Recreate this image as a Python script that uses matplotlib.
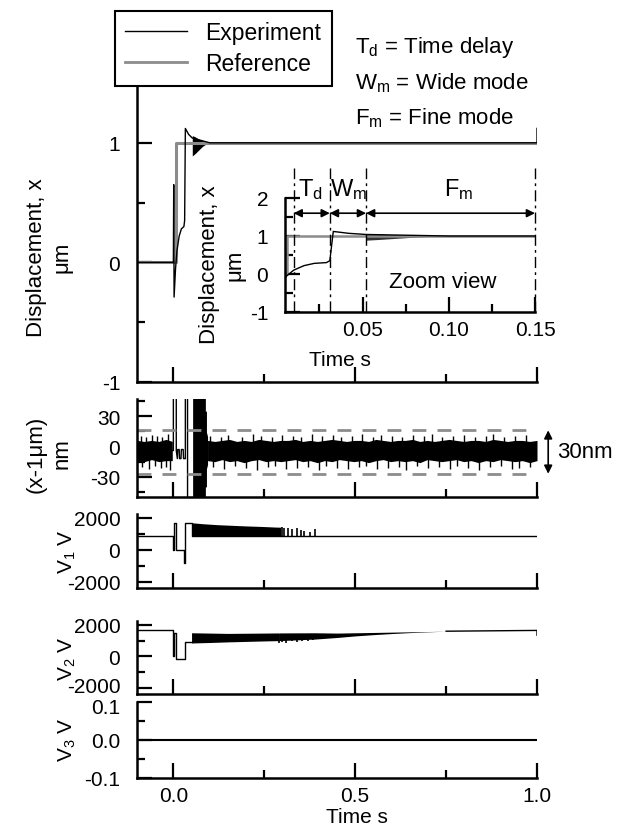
import numpy as np
import matplotlib.pyplot as plt
from matplotlib.ticker import MultipleLocator
from matplotlib.lines import Line2D
from matplotlib.transforms import ScaledTranslation

plt.rcParams['font.family'] = ['Liberation Sans', 'DejaVu Sans']
plt.rcParams['mathtext.fontset'] = 'custom'
plt.rcParams['mathtext.rm'] = 'Liberation Sans'
plt.rcParams['mathtext.it'] = 'Liberation Sans'
plt.rcParams['axes.unicode_minus'] = False
plt.rcParams['font.size'] = 15

GREY = '#8c8c8c'

# displacement (um) - experiment and reference
exp_t = [-0.1, 0.0, 0.001, 0.002, 0.006, 0.010, 0.016, 0.022, 0.029, 0.031, 0.033, 0.042, 0.052, 0.1, 1.0, 1.0]
exp_x = [0.0, 0.0, 0.65, -0.29, -0.05, 0.10, 0.22, 0.28, 0.30, 0.35, 1.12, 1.07, 1.04, 1.0, 1.0, 1.12]
osc_t = [0.052, 0.06, 0.07, 0.08, 0.09, 0.10]
osc_hi = [1.06, 1.05, 1.03, 1.02, 1.01, 1.0]
osc_lo = [0.89, 0.91, 0.94, 0.97, 0.99, 1.0]
ref_t = [-0.1, 0.006, 0.006, 1.0]
ref_x = [0.0, 0.0, 1.0, 1.0]

# zoom view mode boundaries (s)
mode_t = [0.010, 0.031, 0.052, 0.150]
mode_names = ['T$_\\mathregular{d}$', 'W$_\\mathregular{m}$', 'F$_\\mathregular{m}$']

# error x-1um (nm)
pre_t = [-0.1, -0.08, -0.06, -0.04, -0.02, -0.003]
pre_hi = [6, 5, 6, 5, 7, 5]
pre_lo = [-14, -15, -13, -15, -14, -14]
pre_spk_t = [-0.09, -0.075, -0.06, -0.045, -0.03, -0.015, -0.085, -0.068, -0.05, -0.035, -0.02, -0.008]
pre_spk_v = [10, 9, 11, 10, 9, 12, -20, -22, -19, -21, -20, -23]
err_t = [-0.003, 0.0, 0.0, 0.008, 0.008, 0.011, 0.012, 0.016, 0.017, 0.021, 0.022, 0.027, 0.028,
         0.033, 0.033, 0.039, 0.039, 0.053]
err_v = [-4, -4, 90, 90, -4, -12, -3, -3, -12, -12, -3, -3, -12, -12, 90, 90, -90, -90]
blk_t = [0.053, 0.085, 0.088, 0.088, 0.091, 0.091, 0.094]
blk_hi = [90, 90, 90, 35, 35, 14, 10]
blk_lo = [-90, -90, -90, -40, -40, -22, -18]
post_hi = [6, 5, 6, 7, 5, 6, 5, 7, 6, 5, 6, 6, 7, 5, 6, 5, 6, 7, 6, 5, 6, 6, 5,
           7, 6, 5, 6, 6, 7, 5, 6, 5, 6, 7, 6, 5, 6, 6, 5, 7, 6, 5, 6, 6, 5, 6]
post_lo = [-14, -15, -13, -15, -14, -16, -14, -13, -15, -14, -15, -14, -13, -15, -14, -16,
           -14, -15, -13, -14, -15, -14, -16, -14, -13, -15, -14, -15, -14, -16, -13, -14,
           -15, -14, -13, -15, -14, -16, -14, -15, -13, -14, -15, -14, -16, -14]
post_t = np.linspace(0.094, 1.0, len(post_hi))
up_spk_t = [0.10, 0.13, 0.15, 0.19, 0.22, 0.24, 0.27, 0.30, 0.33, 0.35, 0.38, 0.41, 0.44, 0.46, 0.49,
            0.52, 0.55, 0.57, 0.60, 0.63, 0.66, 0.69, 0.71, 0.74, 0.77, 0.80, 0.83, 0.86, 0.88, 0.91,
            0.94, 0.97]
up_spk_v = [10, 9, 11, 9, 12, 10, 9, 11, 10, 9, 12, 10, 11, 9, 10, 12, 9, 11, 10, 9, 11, 10, 12, 9,
            10, 11, 9, 10, 12, 9, 10, 11]
dn_spk_t = [0.11, 0.14, 0.17, 0.20, 0.23, 0.26, 0.28, 0.31, 0.34, 0.37, 0.40, 0.42, 0.45, 0.48, 0.51,
            0.53, 0.56, 0.59, 0.62, 0.64, 0.67, 0.70, 0.73, 0.76, 0.78, 0.81, 0.84, 0.87, 0.90, 0.93,
            0.95, 0.98]
dn_spk_v = [-20, -22, -19, -21, -23, -20, -19, -22, -21, -20, -23, -19, -21, -22, -20, -19, -22, -21,
            -20, -23, -19, -21, -20, -22, -19, -21, -23, -20, -19, -22, -21, -20]
band_lim = [16, -27]

# V1 (V)
v1_t = [-0.1, 0.0, 0.0, 0.001, 0.001, 0.007, 0.007, 0.029, 0.029, 0.032, 0.032, 0.05, 0.05, 1.0]
v1_v = [880, 880, 0, 0, 1700, 1700, 0, 0, -800, -800, 1700, 1700, 880, 880]
v1_blk_t = [0.05, 0.08, 0.12, 0.16, 0.20, 0.24, 0.28, 0.295]
v1_blk_hi = [1700, 1640, 1580, 1540, 1500, 1470, 1430, 1420]
v1_spk_t = [0.30, 0.305, 0.315, 0.325, 0.34, 0.35, 0.36, 0.375, 0.39]
v1_spk_v = [1420, 1350, 1400, 1300, 1380, 1250, 1200, 1150, 1300]

# V2 (V)
v2_t = [-0.1, 0.0, 0.0, 0.002, 0.002, 0.008, 0.008, 0.032, 0.032, 0.05]
v2_v = [1650, 1650, 0, 0, 1500, 1500, -150, -150, 900, 900]
v2_blk_t = [0.05, 0.1, 0.15, 0.2, 0.25, 0.29]
v2_blk_hi = [1500, 1480, 1460, 1470, 1480, 1490]
v2_blk_lo = [850, 880, 920, 950, 980, 1000]
v2_spk_t = [0.29, 0.30, 0.31, 0.325, 0.34, 0.355, 0.37, 0.385]
v2_spk_v = [850, 900, 870, 950, 900, 1000, 950, 1050]
v2_tail_t = [0.29, 0.39, 0.45, 0.5, 0.55, 0.6, 0.65, 0.7, 0.75]
v2_tail_hi = [1490, 1500, 1480, 1500, 1520, 1540, 1560, 1580, 1600]
v2_tail_lo = [1000, 1100, 1200, 1300, 1380, 1450, 1510, 1560, 1600]
v2_end_t = [0.75, 1.0, 1.0]
v2_end_v = [1600, 1650, 1350]

# V3 (V)
v3_t = [-0.1, 1.0]
v3_v = [0.0, 0.0]

W, H = 626, 828


def box(l, t, r, b):
    return [l / W, 1 - b / H, (r - l) / W, (b - t) / H]


def style(ax, ymaj, ymin, xmaj=0.5, xmin=0.25, labels=False):
    for s in ['top', 'right']:
        ax.spines[s].set_visible(False)
    for s in ['left', 'bottom']:
        ax.spines[s].set_linewidth(1.8)
    ax.xaxis.set_major_locator(MultipleLocator(xmaj))
    ax.xaxis.set_minor_locator(MultipleLocator(xmin))
    ax.yaxis.set_major_locator(MultipleLocator(ymaj))
    ax.yaxis.set_minor_locator(MultipleLocator(ymin))
    ax.tick_params(which='both', direction='in', width=1.6, labelsize=15)
    ax.tick_params(which='major', length=11, pad=12)
    ax.tick_params(which='minor', length=6)
    ax.tick_params(axis='x', pad=6)
    if not labels:
        ax.tick_params(axis='x', labelbottom=False)


def nudge(tick, dy):
    # shift one tick label vertically by dy points
    lab = tick.label1
    lab.set_transform(lab.get_transform() + ScaledTranslation(0, dy / 72, fig.dpi_scale_trans))


fig = plt.figure(figsize=(W / 100, H / 100), dpi=100)

# main displacement
ax1 = fig.add_axes(box(137, 84, 537, 383))
ax1.plot(ref_t, ref_x, color=GREY, lw=2.2)
ax1.plot(exp_t, exp_x, color='black', lw=1)
ax1.fill_between(osc_t, osc_lo, osc_hi, color='black', lw=0)
ax1.set_xlim(-0.1, 1.0)
ax1.set_ylim(-1, 1.5)
style(ax1, 1, 0.5)
ax1.set_yticks([-1, 0, 1])
ax1.set_ylabel('Displacement, x\nμm', fontsize=16, ha='center', va='center', linespacing=1.3)
ax1.yaxis.set_label_coords(-0.22, 0.42)

# zoom view inset
ax_in = fig.add_axes(box(285, 199, 535, 313))
ax_in.plot(ref_t, ref_x, color=GREY, lw=1.8)
ax_in.plot(exp_t, exp_x, color='black', lw=1)
ax_in.fill_between(osc_t, osc_lo, osc_hi, color='black', lw=0, alpha=0.8)
ax_in.set_xlim(0.005, 0.15)
ax_in.set_ylim(-1, 2)
style(ax_in, 1, 0.5, xmaj=0.05, xmin=0.025, labels=True)
ax_in.set_xticks([0.05, 0.10, 0.15])
ax_in.set_xticklabels(['0.05', '0.10', '0.15'])
ax_in.vlines(mode_t, -1, 2.8, colors='black', lw=1, linestyles=(0, (8, 3, 2, 3)), clip_on=False)
for i in range(3):
    ax_in.annotate('', xy=(mode_t[i + 1], 1.6), xytext=(mode_t[i], 1.6),
                   arrowprops=dict(arrowstyle='<|-|>', color='black', lw=1.2,
                                   shrinkA=0, shrinkB=0, mutation_scale=12))
ax_in.text(0.020, 2.25, mode_names[0], ha='center', va='center', fontsize=17)
ax_in.text(0.042, 2.25, mode_names[1], ha='center', va='center', fontsize=17)
ax_in.text(0.106, 2.25, mode_names[2], ha='center', va='center', fontsize=17)
ax_in.text(0.0965, -0.2, 'Zoom view', ha='center', va='center', fontsize=16)
ax_in.set_ylabel('Displacement, x\nμm', fontsize=16, ha='center', va='center', linespacing=1.3)
ax_in.yaxis.set_label_coords(-0.25, 0.42)
ax_in.set_xlabel('Time s', fontsize=15)
ax_in.xaxis.set_label_coords(0.22, -0.33)

# error panel
ax2 = fig.add_axes(box(137, 400, 537, 498))
ax2.fill_between(pre_t, pre_lo, pre_hi, color='black', lw=0)
ax2.vlines(pre_spk_t, -4, pre_spk_v, colors='black', lw=1)
ax2.plot(err_t, err_v, color='black', lw=1)
ax2.fill_between(blk_t, blk_lo, blk_hi, color='black', lw=0)
ax2.fill_between(post_t, post_lo, post_hi, color='black', lw=0)
ax2.vlines(up_spk_t, -4, up_spk_v, colors='black', lw=1)
ax2.vlines(dn_spk_t, -4, dn_spk_v, colors='black', lw=1)
ax2.hlines(band_lim, -0.1, 1.0, colors=GREY, lw=2, linestyles=(0, (5, 4)))
ax2.set_xlim(-0.1, 1.0)
ax2.set_ylim(-50, 47)
style(ax2, 30, 15)
ax2.annotate('', xy=(1.028, band_lim[0]), xytext=(1.028, band_lim[1]),
             xycoords=('axes fraction', 'data'), textcoords=('axes fraction', 'data'),
             arrowprops=dict(arrowstyle='<|-|>', color='black', lw=1.2,
                             shrinkA=0, shrinkB=0, mutation_scale=12), annotation_clip=False)
ax2.text(1.05, -5, '30nm', transform=ax2.get_yaxis_transform(), va='center', fontsize=16)
ax2.set_ylabel('(x-1μm)\nnm', fontsize=16, ha='center', va='center', linespacing=1.3)
ax2.yaxis.set_label_coords(-0.22, 0.45)

# V1
ax3 = fig.add_axes(box(137, 515, 537, 589))
ax3.plot(v1_t, v1_v, color='black', lw=1)
ax3.fill_between(v1_blk_t, 850, v1_blk_hi, color='black', lw=0)
ax3.vlines(v1_spk_t, 850, v1_spk_v, colors='black', lw=1.2)
ax3.set_xlim(-0.1, 1.0)
ax3.set_ylim(-2400, 2250)
style(ax3, 2000, 1000)
ax3.set_ylabel('V$_\\mathregular{1}$ V', fontsize=15, ha='center', va='center')
ax3.yaxis.set_label_coords(-0.175, 0.5)

# V2
ax4 = fig.add_axes(box(137, 622, 537, 695))
ax4.plot(v2_t, v2_v, color='black', lw=1)
ax4.fill_between(v2_blk_t, v2_blk_lo, v2_blk_hi, color='black', lw=0)
ax4.vlines(v2_spk_t, v2_spk_v, 1450, colors='black', lw=1.2)
ax4.fill_between(v2_tail_t, v2_tail_lo, v2_tail_hi, color='black', lw=0)
ax4.plot(v2_end_t, v2_end_v, color='black', lw=1)
ax4.set_xlim(-0.1, 1.0)
ax4.set_ylim(-2400, 2250)
style(ax4, 2000, 1000)
ax4.set_yticks([-2000, 0, 2000])
nudge(ax4.yaxis.get_major_ticks()[0], 2.5)
ax4.set_ylabel('V$_\\mathregular{2}$ V', fontsize=15, ha='center', va='center')
ax4.yaxis.set_label_coords(-0.175, 0.5)

# V3
ax5 = fig.add_axes(box(137, 703, 537, 779))
ax5.plot(v3_t, v3_v, color='black', lw=1.5)
ax5.set_xlim(-0.1, 1.0)
ax5.set_ylim(-0.1, 0.1)
style(ax5, 0.1, 0.05, labels=True)
ax5.set_xticks([0.0, 0.5, 1.0])
ax5.set_xticklabels(['0.0', '0.5', '1.0'])
ax5.set_yticks([-0.1, 0.0, 0.1])
ax5.set_yticklabels(['-0.1', '0.0', '0.1'])
nudge(ax5.yaxis.get_major_ticks()[2], -2.5)
ax5.set_xlabel('Time s', fontsize=15, labelpad=0)
ax5.xaxis.set_label_coords(0.55, -0.38)
ax5.set_ylabel('V$_\\mathregular{3}$ V', fontsize=15, ha='center', va='center')
ax5.yaxis.set_label_coords(-0.175, 0.52)

# legend and mode notes
handles = [Line2D([], [], color='black', lw=1), Line2D([], [], color=GREY, lw=2)]
leg = fig.legend(handles, ['Experiment', 'Reference'], loc='upper left',
                 bbox_to_anchor=(115 / W, 1 - 12 / H), fancybox=False, edgecolor='black',
                 fontsize=16.5, handlelength=2.7, borderaxespad=0, framealpha=1,
                 borderpad=0.45, labelspacing=0.35)
leg.get_frame().set_linewidth(1.5)
fig.text(355 / W, 1 - 47 / H, 'T$_\\mathregular{d}$ = Time delay', va='center', fontsize=16)
fig.text(355 / W, 1 - 83 / H, 'W$_\\mathregular{m}$ = Wide mode', va='center', fontsize=16)
fig.text(355 / W, 1 - 118 / H, 'F$_\\mathregular{m}$ = Fine mode', va='center', fontsize=16)

fig.savefig('out.png', dpi=100)
